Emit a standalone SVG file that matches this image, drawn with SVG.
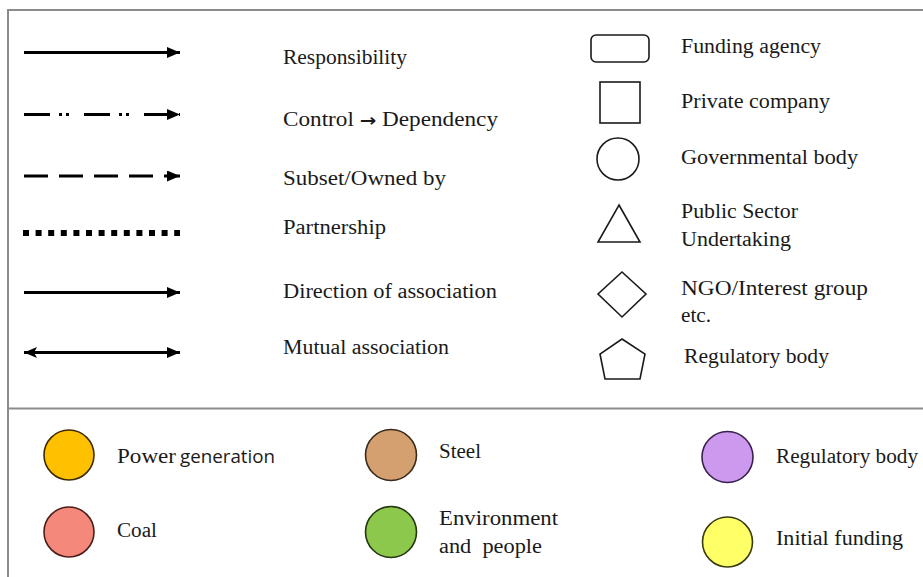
<svg xmlns="http://www.w3.org/2000/svg" width="923" height="577" viewBox="0 0 923 577" font-family="'Liberation Serif', 'Times New Roman', serif">
  <style>
    .frame { stroke: #8c8c8c; stroke-width: 2; fill: none; }
    .lbl { font-family: 'Liberation Serif', serif; font-size: 20px; fill: #1a1a1a; }
    .sans { font-family: 'Open Sans', 'Liberation Sans', sans-serif; font-size: 19px; fill: #1a1a1a; }
    .ln { stroke: #000; stroke-width: 3; fill: none; }
    .shape { fill: #fff; stroke: #1a1a1a; stroke-width: 1.6; }
    .dot { stroke-width: 1.6; }
  </style>
  <defs>
    <marker id="head" markerUnits="userSpaceOnUse" markerWidth="15" markerHeight="12" refX="13" refY="5.5" orient="auto">
      <path d="M0,0 L13,5.5 L0,11 z" fill="#000"/>
    </marker>
    <marker id="headStart" markerUnits="userSpaceOnUse" markerWidth="15" markerHeight="12" refX="0" refY="5.5" orient="auto">
      <path d="M13,0 L0,5.5 L13,11 L10,5.5 z" fill="#000"/>
    </marker>
  </defs>

  <rect width="923" height="577" fill="#fff"/>

  <!-- outer frame and divider -->
  <g id="frame">
    <line class="frame" x1="8" y1="10" x2="923" y2="10"/>
    <line class="frame" x1="8" y1="9" x2="8" y2="577"/>
    <line class="frame" x1="8" y1="408.5" x2="923" y2="408.5"/>
  </g>

  <!-- connector styles -->
  <g id="connectors">
    <line class="ln" x1="24" y1="52.5" x2="180" y2="52.5" marker-end="url(#head)"/>
    <line class="ln" x1="24" y1="114.5" x2="180" y2="114.5" stroke-dasharray="26 9 3 4 3 15" marker-end="url(#head)"/>
    <line class="ln" x1="24" y1="176" x2="180" y2="176" stroke-dasharray="24 11" marker-end="url(#head)"/>
    <line x1="23" y1="233" x2="180" y2="233" stroke="#000" stroke-width="6" stroke-dasharray="6 6.6"/>
    <line class="ln" x1="24" y1="292.5" x2="180" y2="292.5" marker-end="url(#head)"/>
    <line class="ln" x1="24" y1="352.5" x2="180" y2="352.5" stroke-width="2.5" marker-start="url(#headStart)" marker-end="url(#head)"/>
  </g>

  <!-- connector legend labels -->
  <g id="connector-labels">
    <text class="lbl" x="283" y="64" textLength="124" lengthAdjust="spacingAndGlyphs">Responsibility</text>
    <text class="lbl" x="283" y="126" textLength="215" lengthAdjust="spacingAndGlyphs">Control <tspan font-family="'DejaVu Sans', sans-serif" font-weight="bold" font-size="17">→</tspan> Dependency</text>
    <text class="lbl" x="283" y="185" textLength="163" lengthAdjust="spacingAndGlyphs">Subset/Owned by</text>
    <text class="lbl" x="283" y="234" textLength="103" lengthAdjust="spacingAndGlyphs">Partnership</text>
    <text class="lbl" x="283" y="298" textLength="214" lengthAdjust="spacingAndGlyphs">Direction of association</text>
    <text class="lbl" x="283" y="354" textLength="166" lengthAdjust="spacingAndGlyphs">Mutual association</text>
  </g>

  <!-- node shape legend -->
  <g id="funding-agency">
    <rect class="shape" x="591" y="35" width="58" height="27" rx="5"/>
    <text class="lbl" x="681" y="53" textLength="140" lengthAdjust="spacingAndGlyphs">Funding agency</text>
  </g>
  <g id="private-company">
    <rect class="shape" x="600" y="82" width="40" height="41"/>
    <text class="lbl" x="681" y="108" textLength="149" lengthAdjust="spacingAndGlyphs">Private company</text>
  </g>
  <g id="governmental-body">
    <circle class="shape" cx="618" cy="159" r="21"/>
    <text class="lbl" x="681" y="164" textLength="177" lengthAdjust="spacingAndGlyphs">Governmental body</text>
  </g>
  <g id="public-sector">
    <polygon class="shape" points="619,205 640,242 598,242"/>
    <text class="lbl" x="681" y="218" textLength="117" lengthAdjust="spacingAndGlyphs">Public Sector</text>
    <text class="lbl" x="681" y="246" textLength="110" lengthAdjust="spacingAndGlyphs">Undertaking</text>
  </g>
  <g id="ngo">
    <polygon class="shape" points="622,272 646,294 622,317 598,294"/>
    <text class="lbl" x="681" y="295" textLength="187" lengthAdjust="spacingAndGlyphs">NGO/Interest group</text>
    <text class="lbl" x="681" y="322" textLength="30" lengthAdjust="spacingAndGlyphs">etc.</text>
  </g>
  <g id="regulatory-shape">
    <polygon class="shape" points="622,339 645,354 640,379 605,379 600,354"/>
    <text class="lbl" x="684" y="363" textLength="145" lengthAdjust="spacingAndGlyphs">Regulatory body</text>
  </g>

  <!-- sector colour legend -->
  <g id="power-generation">
    <circle class="dot" cx="69" cy="455" r="25" fill="#FFC000" stroke="#3d2c00"/>
    <text class="lbl" x="117" y="463" textLength="59" lengthAdjust="spacingAndGlyphs">Power</text>
    <text class="sans" x="180" y="463" textLength="95" lengthAdjust="spacingAndGlyphs">generation</text>
  </g>
  <g id="coal">
    <circle class="dot" cx="69" cy="532" r="25" fill="#F4897B" stroke="#4a1f1a"/>
    <text class="lbl" x="117" y="537" textLength="40" lengthAdjust="spacingAndGlyphs">Coal</text>
  </g>
  <g id="steel">
    <circle class="dot" cx="391" cy="455" r="25.5" fill="#D5A06F" stroke="#3a2a1a"/>
    <text class="lbl" x="439" y="458" textLength="42" lengthAdjust="spacingAndGlyphs">Steel</text>
  </g>
  <g id="environment">
    <circle class="dot" cx="391" cy="532" r="25.5" fill="#8CC84B" stroke="#24360f"/>
    <text class="lbl" x="439" y="525" textLength="119" lengthAdjust="spacingAndGlyphs">Environment</text>
    <text class="lbl" x="439" y="553" textLength="103" lengthAdjust="spacingAndGlyphs" xml:space="preserve">and  people</text>
  </g>
  <g id="regulatory-colour">
    <circle class="dot" cx="727.5" cy="457" r="25.5" fill="#CC99EE" stroke="#3a2050"/>
    <text class="lbl" x="776" y="463" textLength="142" lengthAdjust="spacingAndGlyphs">Regulatory body</text>
  </g>
  <g id="initial-funding">
    <circle class="dot" cx="727.5" cy="542" r="25" fill="#FFFF66" stroke="#3a3a10"/>
    <text class="lbl" x="776" y="545" textLength="127" lengthAdjust="spacingAndGlyphs">Initial funding</text>
  </g>
</svg>
